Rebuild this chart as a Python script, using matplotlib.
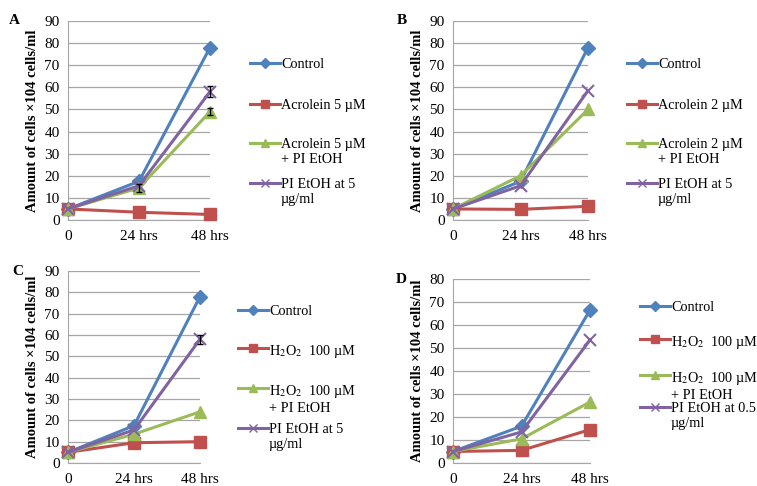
import matplotlib.pyplot as plt
from matplotlib.lines import Line2D

plt.rcParams['font.family'] = ['Liberation Serif', 'DejaVu Serif']
plt.rcParams['mathtext.fontset'] = 'stix'

hours = [0, 24, 48]
xlabels = ['0', '24 hrs', '48 hrs']

colors = ['#4F81BD', '#C0504D', '#9BBB59', '#8064A2']
markers = ['D', 's', '^', 'x']
msizes = [7, 9, 8, 9]

# panel A
a_control = [5, 17.5, 78]
a_acro = [5, 3.5, 2.5]
a_acro_pi = [5, 14.5, 49]
a_pi = [5, 15.5, 58]
a_labels = ['Control', 'Acrolein 5 \u00b5M', 'Acrolein 5 \u00b5M\n+ PI EtOH', 'PI EtOH at 5\n\u00b5g/ml']

# panel B
b_control = [5, 17.5, 78]
b_acro = [5, 4.8, 6.2]
b_acro_pi = [5, 20, 50]
b_pi = [5, 15.5, 58.5]
b_labels = ['Control', 'Acrolein 2 \u00b5M', 'Acrolein 2 \u00b5M\n+ PI EtOH', 'PI EtOH at 5\n\u00b5g/ml']

# panel C
c_control = [5, 17.5, 78]
c_h2o2 = [5, 9.5, 10]
c_h2o2_pi = [5, 13.5, 24]
c_pi = [5, 15.5, 58]
c_labels = ['Control', 'H$_2$O$_2$  100 \u00b5M', 'H$_2$O$_2$  100 \u00b5M\n+ PI EtOH', 'PI EtOH at 5\n\u00b5g/ml']

# panel D
d_control = [5, 16, 66.5]
d_h2o2 = [5, 5.5, 14.5]
d_h2o2_pi = [5, 10.5, 26.5]
d_pi = [5, 13.5, 53.5]
d_labels = ['Control', 'H$_2$O$_2$  100 \u00b5M', 'H$_2$O$_2$  100 \u00b5M\n+ PI EtOH', 'PI EtOH at 0.5\n\u00b5g/ml']

# small error bars (series index, point index, err)
a_err = [(3, 2, 2.5), (2, 1, 2), (2, 2, 1.5)]
c_err = [(3, 2, 2)]

W, H = 757, 486
fig = plt.figure(figsize=(W / 100, H / 100), dpi=100)


def px(x, y):
    return x / W, 1 - y / H


panels = [
    # letter, series, labels, axes box (left, top, right, bottom px), ymax, legend x px, legend y px, errs
    ('A', [a_control, a_acro, a_acro_pi, a_pi], a_labels, (68, 21, 210, 220), 90, 250, [63, 104, 143, 183], a_err),
    ('B', [b_control, b_acro, b_acro_pi, b_pi], b_labels, (453, 21, 588, 220), 90, 627, [63, 104, 143, 183], []),
    ('C', [c_control, c_h2o2, c_h2o2_pi, c_pi], c_labels, (68, 271, 200, 463), 90, 238, [310, 348, 388, 428], c_err),
    ('D', [d_control, d_h2o2, d_h2o2_pi, d_pi], d_labels, (453, 279, 590, 463), 80, 640, [306, 339, 375, 407], []),
]

for letter, series, labels, box, ymax, lx0, leg_y, errs in panels:
    l, t, r, b = box
    ax = fig.add_axes([l / W, 1 - b / H, (r - l) / W, (b - t) / H])
    for i, vals in enumerate(series):
        ax.plot(hours, vals, color=colors[i], lw=2.2, marker=markers[i], ms=msizes[i],
                mew=1.5 if markers[i] == 'x' else 1, clip_on=False, zorder=3 + i)
    for si, pi, e in errs:
        ax.errorbar(hours[pi], series[si][pi], yerr=e, fmt='none', ecolor='black',
                    elinewidth=1, capsize=2.5, zorder=10, clip_on=False)
    ax.set_xlim(0, 48)
    ax.set_ylim(0, ymax)
    ax.set_yticks(range(0, ymax + 1, 10))
    ax.set_xticks(hours)
    ax.set_xticklabels(xlabels)
    ax.grid(axis='y', color='#a6a6a6', lw=0.9)
    ax.set_axisbelow(True)
    for s in ['top', 'right']:
        ax.spines[s].set_visible(False)
    for s in ['left', 'bottom']:
        ax.spines[s].set_color('#a6a6a6')
    ax.tick_params(length=0, labelsize=11, pad=6)
    ax.tick_params(axis='x', pad=7)
    ax.set_ylabel('Amount of cells \u00d7104 cells/ml', fontsize=10.5, fontweight='bold', labelpad=4)
    ax.text(-0.42, 1.0, letter, transform=ax.transAxes, fontsize=11, fontweight='bold',
            va='center', ha='left')

    # legend drawn to the right of each panel
    for i, (lab, ly) in enumerate(zip(labels, leg_y)):
        x0, y0 = px(lx0, ly)
        x1, _ = px(lx0 + 30, ly)
        fig.add_artist(Line2D([x0, x1], [y0, y0], color=colors[i], lw=2.2,
                              transform=fig.transFigure))
        fig.add_artist(Line2D([(x0 + x1) / 2], [y0], color=colors[i], marker=markers[i],
                              ms=msizes[i] * 0.7, mew=1, transform=fig.transFigure))
        tx, ty = px(lx0 + 31, ly - 5)
        fig.text(tx, ty, lab, fontsize=10.3, va='top', ha='left', linespacing=1.2)

fig.savefig('out.png', dpi=100)
